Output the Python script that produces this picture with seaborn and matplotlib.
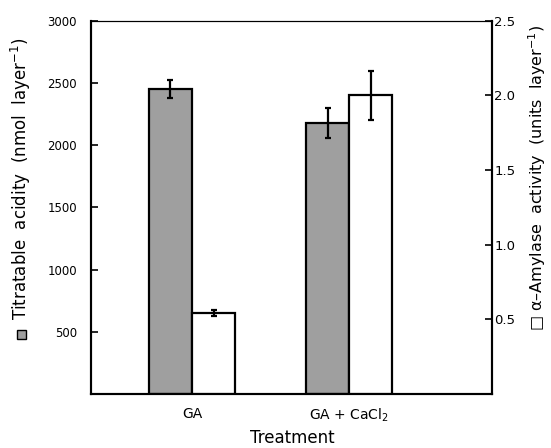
import matplotlib
matplotlib.use("Agg")
import matplotlib.pyplot as plt
import seaborn as sns
import pandas as pd
from matplotlib.patches import Rectangle

# ---- data ----
treatments = ["GA", "GA + CaCl$_2$"]
titratable = [2450, 2180]          # nmol layer-1 (left axis)
titratable_err = [75, 120]
amylase = [0.54, 2.00]             # units layer-1 (right axis)
amylase_err = [0.02, 0.165]
series_order = ["Titratable acidity", "α-Amylase activity"]
left_ticks = [500, 1000, 1500, 2000, 2500, 3000]
right_ticks = [0.5, 1.0, 1.5, 2.0, 2.5]

sns.set_theme(style="white")
plt.rcParams["font.family"] = ["DejaVu Sans"]
plt.rcParams["text.color"] = "black"
plt.rcParams["axes.labelcolor"] = "black"

fig = plt.figure(figsize=(5.51, 4.48), dpi=100)
ax = fig.add_axes([90.7 / 551, 54 / 448, 401.3 / 551, 373.3 / 448])
ax2 = ax.twinx()

palette = {series_order[0]: "#9f9f9f", series_order[1]: "white"}

df_left = pd.DataFrame({"treatment": treatments, "value": titratable,
                        "series": series_order[0]})
df_right = pd.DataFrame({"treatment": treatments, "value": amylase,
                         "series": series_order[1]})

sns.barplot(data=df_left, x="treatment", y="value", hue="series",
            hue_order=series_order, order=treatments, palette=palette,
            width=0.548, dodge=True, edgecolor="black", linewidth=1.6,
            errorbar=None, legend=False, ax=ax)
sns.barplot(data=df_right, x="treatment", y="value", hue="series",
            hue_order=series_order, order=treatments, palette=palette,
            width=0.548, dodge=True, edgecolor="black", linewidth=1.6,
            errorbar=None, legend=False, ax=ax2)

# error bars at the centres of the bars seaborn drew
for a, vals, errs in ((ax, titratable, titratable_err), (ax2, amylase, amylase_err)):
    bars = [p for p in a.patches if p.get_height() > 0]
    bars.sort(key=lambda p: p.get_x())
    xs = [p.get_x() + p.get_width() / 2 for p in bars]
    a.errorbar(xs, vals, yerr=errs, fmt="none", ecolor="black",
               elinewidth=1.6, capsize=2.5, capthick=1.6, zorder=5)

ax.set_xlim(-0.645, 1.91)
ax.set_ylim(0, 3000)
ax2.set_ylim(0, 2.5)

ax.set_yticks(left_ticks)
ax.set_yticklabels([str(t) for t in left_ticks], fontsize=8.5)
ax2.set_yticks(right_ticks)
ax2.set_yticklabels([f"{t:.1f}" for t in right_ticks], fontsize=9.5)

ax.tick_params(axis="y", direction="in", length=5, width=1.2, pad=10,
               left=True, colors="black")
ax2.tick_params(axis="y", direction="in", length=5, width=1.2, pad=1.5,
                right=True, colors="black")
ax.tick_params(axis="x", length=0, pad=9, labelsize=10, colors="black")

ax.set_xlabel("Treatment", fontsize=12, color="black")
ax.set_ylabel("Titratable  acidity  (nmol  layer$^{-1}$)", fontsize=12,
              color="black")
ax2.set_ylabel("□ α–Amylase  activity  (units  layer$^{-1}$)", fontsize=11.5,
               color="black")
ax.xaxis.set_label_coords(0.502, -0.094)
ax.yaxis.set_label_coords(-0.143, 0.575)
ax2.yaxis.set_label_coords(1.086, 0.58)

for a in (ax, ax2):
    for side in ("left", "right", "bottom"):
        a.spines[side].set_color("black")
        a.spines[side].set_linewidth(1.5)
    a.spines["top"].set_color("black")
    a.spines["top"].set_linewidth(0.8)
    a.grid(False)

# small stippled square before the left axis label
fig.add_artist(Rectangle((17 / 551, 1 - 339 / 448), 9 / 551, 9 / 448,
                         transform=fig.transFigure, facecolor="#9f9f9f",
                         edgecolor="black", linewidth=1.0))

fig.savefig("out.png", dpi=100)
